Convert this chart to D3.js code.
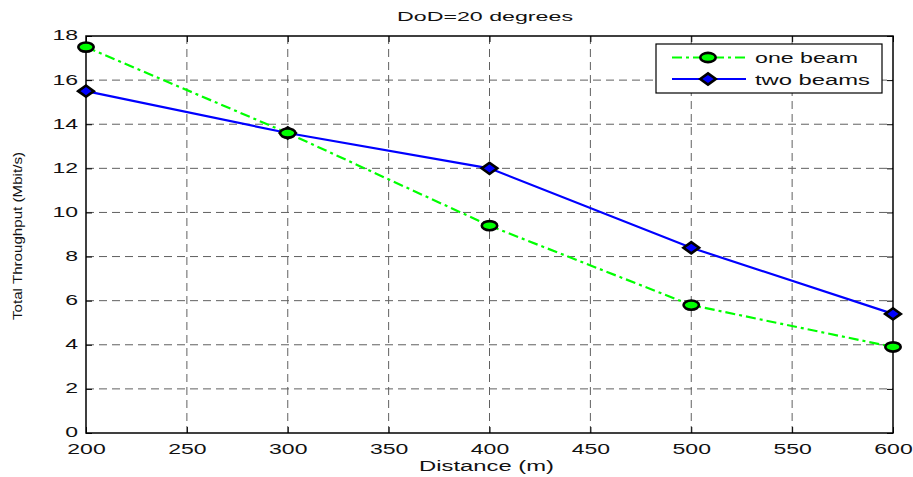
<!DOCTYPE html>
<html><head><meta charset="utf-8">
<script src="https://cdn.jsdelivr.net/npm/d3@7"></script>
<style>body{margin:0;background:#fff}svg{display:block}text{font-family:"Liberation Sans",Arial,sans-serif}</style>
</head><body><svg id="c" width="913" height="477"></svg>
<script>
const distances = [200, 300, 400, 500, 600];
const oneBeam = [17.5, 13.6, 9.4, 5.8, 3.9];
const twoBeams = [15.5, 13.6, 12.0, 8.4, 5.4];
const xTicks = [200, 250, 300, 350, 400, 450, 500, 550, 600];
const yTicks = [0, 2, 4, 6, 8, 10, 12, 14, 16, 18];
const seriesNames = ["one beam", "two beams"];

const FONT = '"Liberation Sans",Arial,sans-serif';
const svg = d3.select("#c");
const L = 86, R = 893, T = 36, B = 433;
const x = d3.scaleLinear().domain([200, 600]).range([L, R]);
const y = d3.scaleLinear().domain([0, 18]).range([B, T]);

// grid
const g = svg.append("g");
const gridStyle = s => s.attr("stroke", "#606060").attr("stroke-width", 1).attr("stroke-dasharray", "8,5");
xTicks.slice(1, -1).forEach(v => g.append("line").attr("x1", x(v)).attr("x2", x(v)).attr("y1", T).attr("y2", B).call(gridStyle));
yTicks.slice(1, -1).forEach(v => g.append("line").attr("x1", L).attr("x2", R).attr("y1", y(v)).attr("y2", y(v)).call(gridStyle));

// axes
const xa = svg.append("g").attr("transform", `translate(0,${B})`)
  .call(d3.axisBottom(x).tickValues(xTicks).tickSize(-6).tickFormat(d3.format("d")));
const xaT = svg.append("g").attr("transform", `translate(0,${T})`)
  .call(d3.axisTop(x).tickValues(xTicks).tickSize(-6).tickFormat(""));
const ya = svg.append("g").attr("transform", `translate(${L},0)`)
  .call(d3.axisLeft(y).tickValues(yTicks).tickSize(-6).tickFormat(d3.format("d")));
const yaR = svg.append("g").attr("transform", `translate(${R},0)`)
  .call(d3.axisRight(y).tickValues(yTicks).tickSize(-6).tickFormat(""));
[xa, xaT, ya, yaR].forEach(a => {
  a.select(".domain").remove();
  a.selectAll("line").attr("stroke", "#000");
  a.selectAll("text").attr("font-size", 15).attr("fill", "#111").style("font-family", FONT)
    .attr("lengthAdjust", "spacingAndGlyphs").attr("textLength", function () { return this.textContent.length * 12.8; });
});
xa.selectAll("text").attr("y", 21).attr("dy", 0);
ya.selectAll("text").attr("x", -8).attr("dy", "0.26em");
svg.append("rect").attr("x", L).attr("y", T).attr("width", R - L).attr("height", B - T)
  .attr("fill", "none").attr("stroke", "#000").attr("stroke-width", 1.5);

// lines
const line = d3.line().x((d, i) => x(distances[i])).y(d => y(d));
svg.append("path").datum(oneBeam).attr("d", line).attr("fill", "none").attr("stroke", "#00ff00")
  .attr("stroke-width", 2.2).attr("stroke-dasharray", "10,4,3,4");
svg.append("path").datum(twoBeams).attr("d", line).attr("fill", "none").attr("stroke", "#0000ff").attr("stroke-width", 2.2);

const diamondPath = (cx, cy) => { const p = d3.path(); const hw = 7.8, hh = 5.6;
  p.moveTo(cx - hw, cy); p.lineTo(cx, cy - hh); p.lineTo(cx + hw, cy); p.lineTo(cx, cy + hh); p.closePath(); return p.toString(); };
svg.selectAll(".m2").data(twoBeams).join("path")
  .attr("d", (d, i) => diamondPath(x(distances[i]), y(d)))
  .attr("fill", "#0000ff").attr("stroke", "#000").attr("stroke-width", 2.6).attr("stroke-linejoin", "miter");
svg.selectAll(".m1").data(oneBeam).join("ellipse")
  .attr("cx", (d, i) => x(distances[i])).attr("cy", d => y(d)).attr("rx", 7.7).attr("ry", 4.6)
  .attr("fill", "#00ff00").attr("stroke", "#000").attr("stroke-width", 2.6);

// legend
const lg = svg.append("g");
lg.append("rect").attr("x", 656).attr("y", 44).attr("width", 226).attr("height", 49)
  .attr("fill", "#fff").attr("stroke", "#000").attr("stroke-width", 1.2);
const ly = [57.5, 79];
const lw = [103, 115];
lg.append("line").attr("x1", 672).attr("x2", 746).attr("y1", ly[0]).attr("y2", ly[0])
  .attr("stroke", "#00ff00").attr("stroke-width", 2.2).attr("stroke-dasharray", "10,4,3,4");
lg.append("ellipse").attr("cx", 708).attr("cy", ly[0]).attr("rx", 7.7).attr("ry", 4.6)
  .attr("fill", "#00ff00").attr("stroke", "#000").attr("stroke-width", 2.6);
lg.append("line").attr("x1", 672).attr("x2", 746).attr("y1", ly[1]).attr("y2", ly[1])
  .attr("stroke", "#0000ff").attr("stroke-width", 2.2);
lg.append("path").attr("d", diamondPath(708, ly[1]))
  .attr("fill", "#0000ff").attr("stroke", "#000").attr("stroke-width", 2.6);
seriesNames.forEach((s, i) => lg.append("text").attr("x", 755).attr("y", ly[i] + 5.5).attr("font-size", 15.5).attr("fill", "#111")
  .attr("textLength", lw[i]).attr("lengthAdjust", "spacingAndGlyphs").text(s));

// titles
svg.append("text").attr("x", 485).attr("y", 21).attr("text-anchor", "middle").attr("font-size", 13.5).attr("fill", "#111")
  .attr("textLength", 176).attr("lengthAdjust", "spacingAndGlyphs").text("DoD=20 degrees");
svg.append("text").attr("x", 486.5).attr("y", 471).attr("text-anchor", "middle").attr("font-size", 15.5).attr("fill", "#111")
  .attr("textLength", 135).attr("lengthAdjust", "spacingAndGlyphs").text("Distance (m)");
svg.append("text").attr("transform", "translate(22,236) rotate(-90)").attr("text-anchor", "middle")
  .attr("font-size", 13).attr("fill", "#111").attr("textLength", 168).attr("lengthAdjust", "spacingAndGlyphs")
  .text("Total Throughput (Mbit/s)");
</script></body></html>
